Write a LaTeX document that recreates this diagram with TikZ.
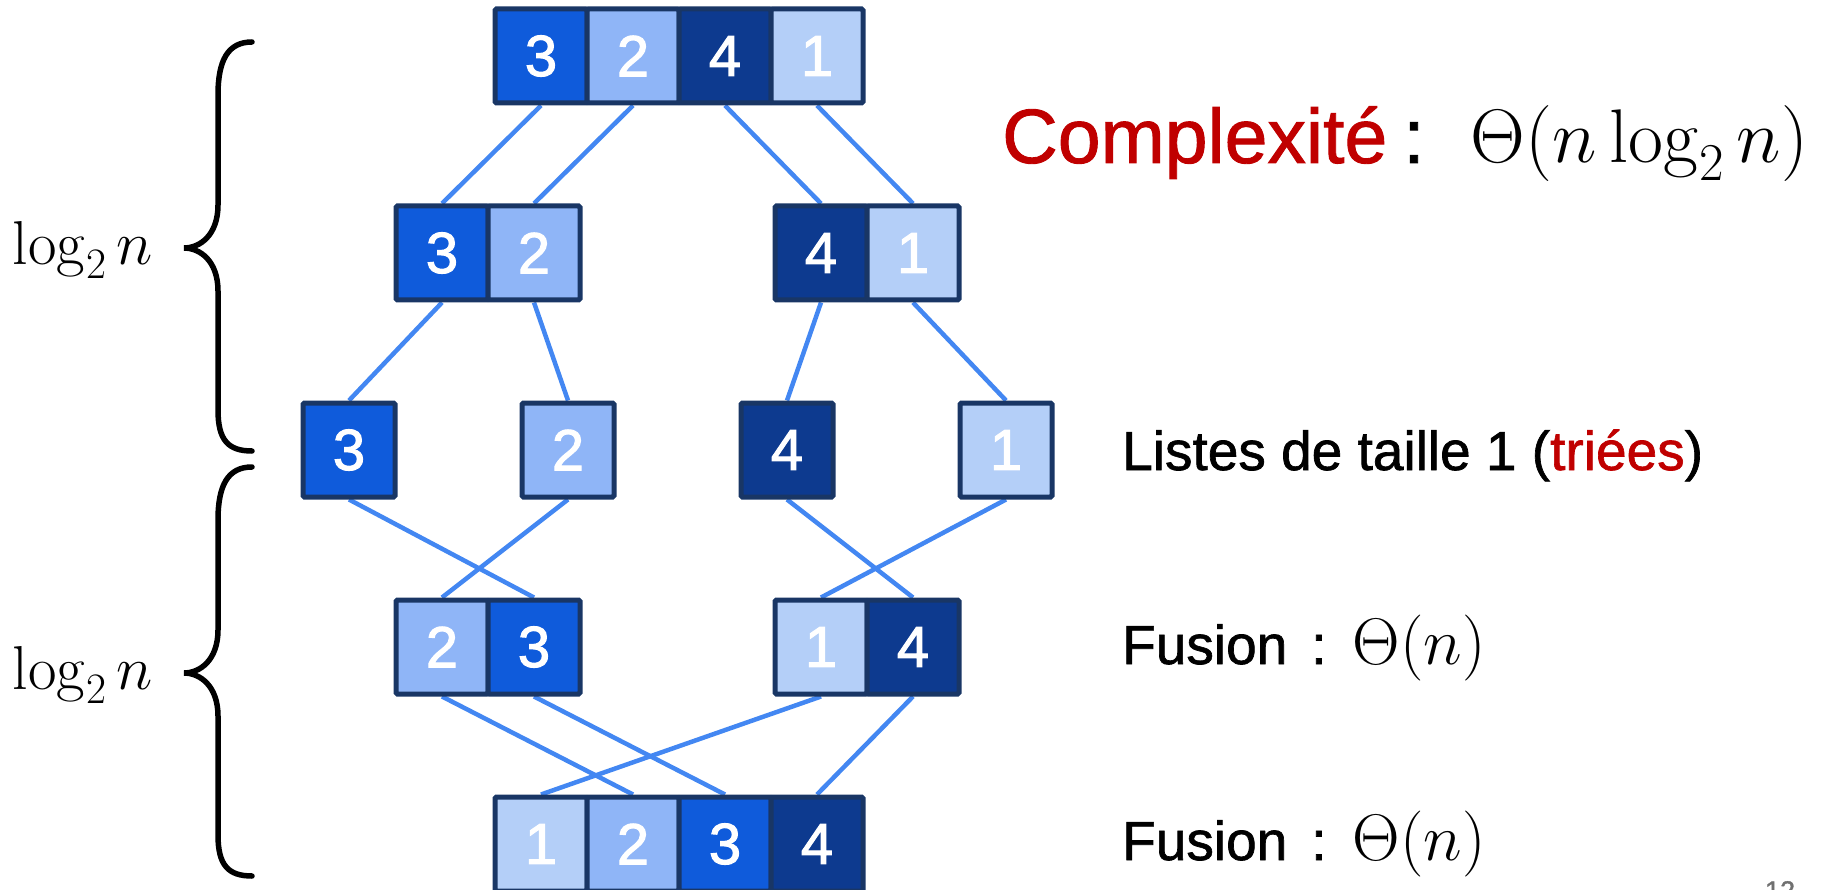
\RequirePackage{fix-cm}
\documentclass[tikz,border=0pt]{standalone}
\usepackage[no-math]{fontspec}
\setmainfont{Liberation Sans}[FakeBold=1.2]
\newfontfamily\numfont{Liberation Sans}[FakeBold=1.8]
\newfontfamily\lblfont{Liberation Sans}[FakeBold=1.2]
\usetikzlibrary{backgrounds}
\definecolor{cA}{HTML}{0F5BDB}
\definecolor{cB}{HTML}{8FB5F7}
\definecolor{cC}{HTML}{0D3A8F}
\definecolor{cD}{HTML}{B4CFF8}
\definecolor{bord}{HTML}{193665}
\definecolor{link}{HTML}{4387F2}
\definecolor{redt}{HTML}{C00000}
\definecolor{pgnum}{HTML}{707070}
\tikzset{
  cell/.style={rectangle, draw=bord, line width=5pt, minimum width=92pt, minimum height=94pt,
    inner sep=0pt, text=white, font=\numfont\fontsize{58}{66}\selectfont, rounded corners=1.5pt},
  c3/.style={cell, fill=cA},
  c2/.style={cell, fill=cB},
  c4/.style={cell, fill=cC},
  c1/.style={cell, fill=cD},
  link/.style={draw=link, line width=4.5pt},
  brace/.style={draw=black, line width=5.5pt, line cap=round},
  lbl/.style={anchor=base west, inner sep=0pt, font=\lblfont\fontsize{55}{62}\selectfont},
  loglbl/.style={inner sep=0pt, font=\fontsize{62}{70}\selectfont},
}
\begin{document}
\begin{tikzpicture}[x=1pt,y=-1pt]
\useasboundingbox (0,0) rectangle (1827,890);
% row 1
\node[c3] (a1) at (541,56) {3};
\node[c2] (a2) at (633,56) {2};
\node[c4] (a3) at (725,56) {4};
\node[c1] (a4) at (817,56) {1};
% row 2
\node[c3] (b1) at (442,253) {3};
\node[c2] (b2) at (534,253) {2};
\node[c4] (b3) at (821,253) {4};
\node[c1] (b4) at (913,253) {1};
% row 3
\node[c3] (s1) at (349,450) {3};
\node[c2] (s2) at (568,450) {2};
\node[c4] (s3) at (787,450) {4};
\node[c1] (s4) at (1006,450) {1};
% row 4
\node[c2] (d1) at (442,647) {2};
\node[c3] (d2) at (534,647) {3};
\node[c1] (d3) at (821,647) {1};
\node[c4] (d4) at (913,647) {4};
% row 5
\node[c1] (e1) at (541,844) {1};
\node[c2] (e2) at (633,844) {2};
\node[c3] (e3) at (725,844) {3};
\node[c4] (e4) at (817,844) {4};
\begin{scope}[on background layer]
\draw[link] (a1.south) -- (b1.north);
\draw[link] (a2.south) -- (b2.north);
\draw[link] (a3.south) -- (b3.north);
\draw[link] (a4.south) -- (b4.north);
\draw[link] (b1.south) -- (s1.north);
\draw[link] (b2.south) -- (s2.north);
\draw[link] (b3.south) -- (s3.north);
\draw[link] (b4.south) -- (s4.north);
\draw[link] (s1.south) -- (d2.north);
\draw[link] (s2.south) -- (d1.north);
\draw[link] (s3.south) -- (d4.north);
\draw[link] (s4.south) -- (d3.north);
\draw[link] (d1.south) -- (e2.north);
\draw[link] (d2.south) -- (e3.north);
\draw[link] (d3.south) -- (e1.north);
\draw[link] (d4.south) -- (e4.north);
\end{scope}
% braces
\draw[brace] (252,42) .. controls (228,42) and (218,60) .. (218,95) -- (218,205)
  .. controls (218,235) and (200,248) .. (184,248)
  .. controls (200,248) and (218,261) .. (218,291) -- (218,410)
  .. controls (218,440) and (228,451) .. (252,451);
\draw[brace] (252,467) .. controls (228,467) and (218,485) .. (218,520) -- (218,630)
  .. controls (218,660) and (200,673) .. (184,673)
  .. controls (200,673) and (218,686) .. (218,716) -- (218,835)
  .. controls (218,865) and (228,876) .. (252,876);
\node[loglbl] (lg1) at (83,250) {$\log_2 n$};
\node[loglbl] (lg2) at (83,675) {$\log_2 n$};
% right labels
\node[lbl, font=\lblfont\fontsize{77}{84}\selectfont] (cx) at (1002,163)
  {\textcolor{redt}{Complexité}\hspace{16pt}:\hspace{46pt}\fontsize{76}{86}\selectfont$\Theta(n\log_2 n)$};
\node[lbl] (ls) at (1122,470) {Listes de taille 1 (\textcolor{redt}{triées})};
\node[lbl] (f1) at (1122,664) {Fusion\hspace{24pt}:\hspace{26pt}\fontsize{66}{76}\selectfont$\Theta(n)$};
\node[lbl] (f2) at (1122,860) {Fusion\hspace{24pt}:\hspace{26pt}\fontsize{66}{76}\selectfont$\Theta(n)$};
\node[anchor=base, inner sep=0pt, text=pgnum, font=\fontsize{27}{30}\selectfont] (pg) at (1780,900) {12};
\end{tikzpicture}
\end{document}
